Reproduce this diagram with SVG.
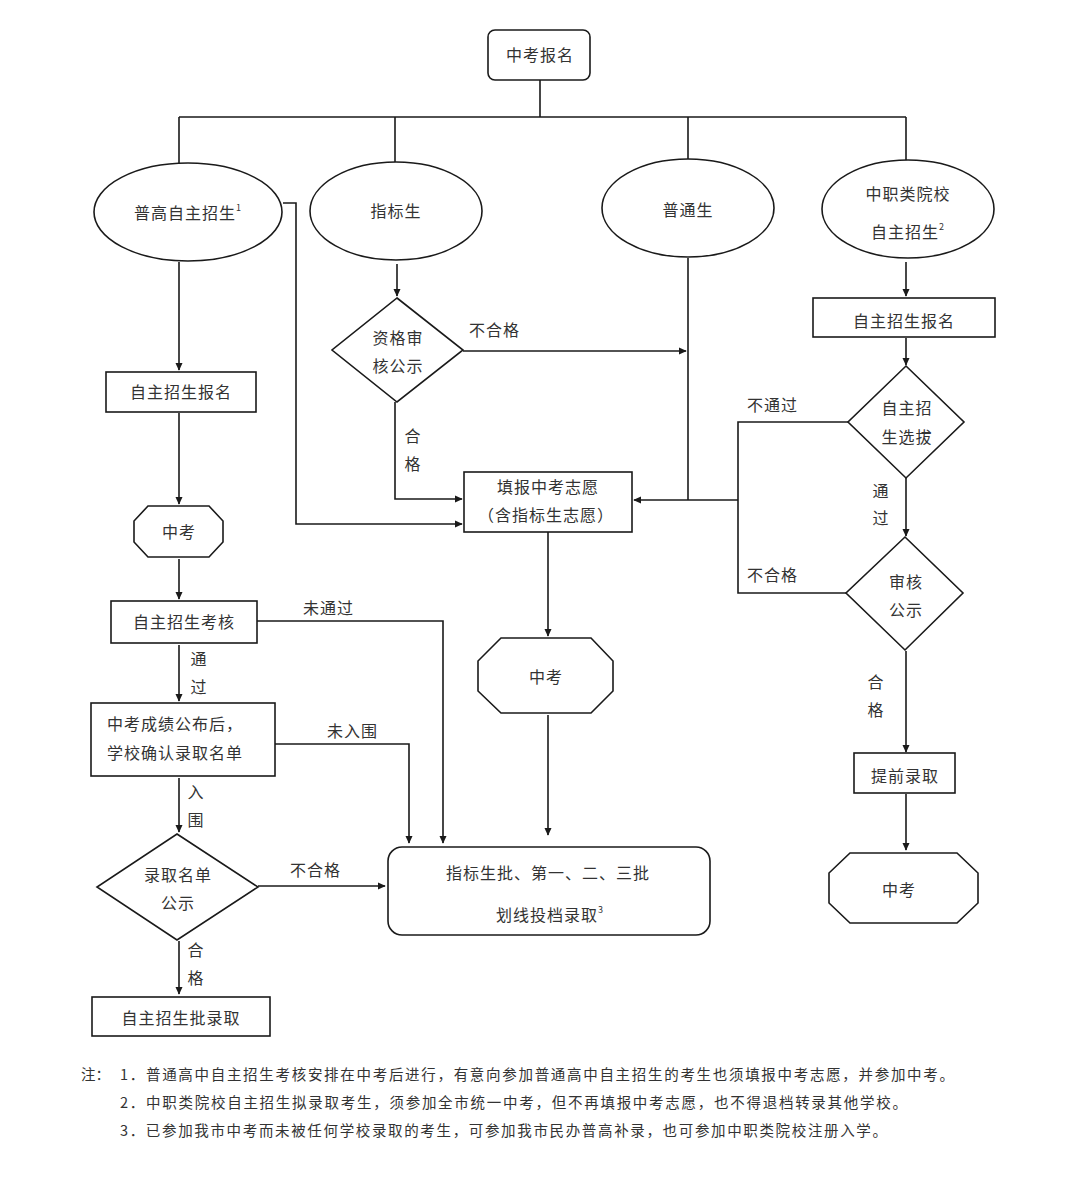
<svg xmlns="http://www.w3.org/2000/svg" width="1077" height="1186" viewBox="0 0 1077 1186">
<style>
.s{fill:#fff;stroke:#1a1a1a;stroke-width:1.6}
.c{fill:none;stroke:#1a1a1a;stroke-width:1.6}
text{font-family:"Noto Sans CJK SC","Liberation Sans",sans-serif;font-size:16px;fill:#333;letter-spacing:1px}
.m{text-anchor:middle}
.n{font-size:14.5px;letter-spacing:0}
.sup{font-size:9px}
</style>
<defs>
<marker id="a" viewBox="0 0 10 10" refX="9" refY="5" markerWidth="8" markerHeight="8" markerUnits="userSpaceOnUse" orient="auto">
<path d="M0,0.5 L10,5 L0,9.5 z" fill="#1a1a1a"/>
</marker>
</defs>
<rect width="1077" height="1186" fill="#fff"/>
<g id="connectors">
<path class="c" d="M540,80 V117 M179,117 H906 M179,117 V163 M395,117 V162 M688,117 V159 M906,117 V160"/>
<path class="c" d="M283,203 H296 V524 H462" marker-end="url(#a)"/>
<path class="c" d="M179,262 V370" marker-end="url(#a)"/>
<path class="c" d="M179,413 V504" marker-end="url(#a)"/>
<path class="c" d="M179,559 V599" marker-end="url(#a)"/>
<path class="c" d="M257,621 H443 V843" marker-end="url(#a)"/>
<path class="c" d="M179,645 V701" marker-end="url(#a)"/>
<path class="c" d="M275,744 H409 V843" marker-end="url(#a)"/>
<path class="c" d="M179,778 V832" marker-end="url(#a)"/>
<path class="c" d="M258,886 H385" marker-end="url(#a)"/>
<path class="c" d="M179,941 V994" marker-end="url(#a)"/>
<path class="c" d="M397,264 V296" marker-end="url(#a)"/>
<path class="c" d="M463,351 H686" marker-end="url(#a)"/>
<path class="c" d="M395,402 V499 H462" marker-end="url(#a)"/>
<path class="c" d="M688,258 V500"/>
<path class="c" d="M848,422 H738 V593 H846"/>
<path class="c" d="M738,500 H634" marker-end="url(#a)"/>
<path class="c" d="M548,532 V636" marker-end="url(#a)"/>
<path class="c" d="M548,715 V835" marker-end="url(#a)"/>
<path class="c" d="M906,262 V296" marker-end="url(#a)"/>
<path class="c" d="M906,338 V365" marker-end="url(#a)"/>
<path class="c" d="M906,478 V536" marker-end="url(#a)"/>
<path class="c" d="M906,651 V752" marker-end="url(#a)"/>
<path class="c" d="M906,794 V850" marker-end="url(#a)"/>
</g>
<g id="labels">
<text x="469" y="336">不合格</text>
<text class="m" x="413" y="442">合</text>
<text class="m" x="413" y="470">格</text>
<text x="303" y="614">未通过</text>
<text class="m" x="199" y="665">通</text>
<text class="m" x="199" y="693">过</text>
<text x="327" y="737">未入围</text>
<text class="m" x="196" y="798">入</text>
<text class="m" x="196" y="826">围</text>
<text x="290" y="876">不合格</text>
<text class="m" x="196" y="956">合</text>
<text class="m" x="196" y="984">格</text>
<text x="747" y="411">不通过</text>
<text class="m" x="881" y="497">通</text>
<text class="m" x="881" y="524">过</text>
<text x="747" y="581">不合格</text>
<text class="m" x="876" y="688">合</text>
<text class="m" x="876" y="716">格</text>
</g>
<g id="n-top"><rect class="s" x="488" y="30" width="102" height="50" rx="7"/><text class="m" x="540" y="61">中考报名</text></g>
<g id="n-pugao"><ellipse class="s" cx="188" cy="212" rx="94" ry="49"/><text class="m" x="188" y="219">普高自主招生<tspan class="sup" dy="-8">1</tspan></text></g>
<g id="n-zhibiao"><ellipse class="s" cx="396" cy="211" rx="86" ry="49"/><text class="m" x="396" y="217">指标生</text></g>
<g id="n-putong"><ellipse class="s" cx="688" cy="208" rx="86" ry="49"/><text class="m" x="688" y="216">普通生</text></g>
<g id="n-zhongzhi"><ellipse class="s" cx="908" cy="209" rx="86" ry="49"/><text class="m" x="908" y="200">中职类院校</text><text class="m" x="908" y="238">自主招生<tspan class="sup" dy="-8">2</tspan></text></g>
<g id="n-zige"><polygon class="s" points="397,298 463,350 397,402 332,350"/><text class="m" x="398" y="344">资格审</text><text class="m" x="398" y="372">核公示</text></g>
<g id="n-tianbao"><rect class="s" x="464" y="472" width="168" height="60"/><text class="m" x="548" y="493">填报中考志愿</text><text class="m" x="546" y="521">（含指标生志愿）</text></g>
<g id="n-zzbm-l"><rect class="s" x="106" y="372" width="150" height="40"/><text class="m" x="181" y="398">自主招生报名</text></g>
<g id="n-zk-l"><polygon class="s" points="148,506 209,506 223,521 223,542 209,557 148,557 134,542 134,521"/><text class="m" x="179" y="538">中考</text></g>
<g id="n-kaohe"><rect class="s" x="111" y="601" width="146" height="42"/><text class="m" x="184" y="628">自主招生考核</text></g>
<g id="n-queren"><rect class="s" x="91" y="703" width="184" height="73"/><text x="107" y="730">中考成绩公布后，</text><text x="107" y="759">学校确认录取名单</text></g>
<g id="n-gongshi"><polygon class="s" points="177,834 258,887 177,940 97,887"/><text class="m" x="178" y="881">录取名单</text><text class="m" x="178" y="909">公示</text></g>
<g id="n-zzpi"><rect class="s" x="92" y="997" width="178" height="39"/><text class="m" x="181" y="1024">自主招生批录取</text></g>
<g id="n-zk-m"><polygon class="s" points="501,638 591,638 613,661 613,691 591,713 501,713 478,691 478,661"/><text class="m" x="546" y="683">中考</text></g>
<g id="n-luqu"><rect class="s" x="388" y="847" width="322" height="88" rx="14"/><text class="m" x="548" y="879">指标生批、第一、二、三批</text><text class="m" x="550" y="921">划线投档录取<tspan class="sup" dy="-8">3</tspan></text></g>
<g id="n-zzbm-r"><rect class="s" x="813" y="298" width="182" height="39"/><text class="m" x="904" y="327">自主招生报名</text></g>
<g id="n-xuanba"><polygon class="s" points="906,366 964,422 906,478 848,422"/><text class="m" x="907" y="414">自主招</text><text class="m" x="907" y="443">生选拔</text></g>
<g id="n-shenhe"><polygon class="s" points="905,537 963,593 905,650 846,593"/><text class="m" x="906" y="588">审核</text><text class="m" x="906" y="616">公示</text></g>
<g id="n-tiqian"><rect class="s" x="854" y="753" width="101" height="40"/><text class="m" x="905" y="782">提前录取</text></g>
<g id="n-zk-r"><polygon class="s" points="850,853 957,853 978,873 978,903 957,923 850,923 829,903 829,873"/><text class="m" x="899" y="896">中考</text></g>
<g id="notes">
<text class="n" x="81" y="1080">注：</text>
<text class="n" x="120" y="1080" textLength="834" lengthAdjust="spacing">1．普通高中自主招生考核安排在中考后进行，有意向参加普通高中自主招生的考生也须填报中考志愿，并参加中考。</text>
<text class="n" x="120" y="1108" textLength="787" lengthAdjust="spacing">2．中职类院校自主招生拟录取考生，须参加全市统一中考，但不再填报中考志愿，也不得退档转录其他学校。</text>
<text class="n" x="120" y="1136" textLength="767" lengthAdjust="spacing">3．已参加我市中考而未被任何学校录取的考生，可参加我市民办普高补录，也可参加中职类院校注册入学。</text>
</g>
</svg>
